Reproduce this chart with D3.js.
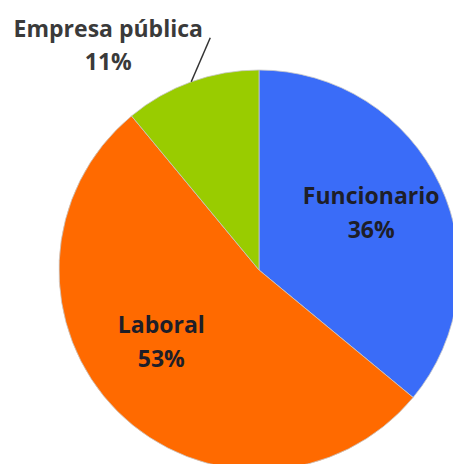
<!DOCTYPE html>
<html>
<head>
<meta charset="utf-8">
<script src="https://cdn.jsdelivr.net/npm/d3@7"></script>
<style>
  body { margin: 0; background: #fff; }
  svg { display: block; }
</style>
</head>
<body>
<svg id="chart"></svg>
<script>
// data
const categories = ["Funcionario", "Laboral", "Empresa pública"];
const shares = [36, 53, 11];
const colors = ["#3a6cf8", "#ff6a00", "#99cc00"];

const width = 453, height = 464;
const cx = 259, cy = 270, radius = 200;

const svg = d3.select("#chart")
  .attr("width", width)
  .attr("height", height);

const g = svg.append("g")
  .attr("transform", `translate(${cx},${cy})`);

const pie = d3.pie().sort(null).value(d => d.value);
const arc = d3.arc().innerRadius(0).outerRadius(radius);
const labelArc = d3.arc().innerRadius(radius * 0.62).outerRadius(radius * 0.62);
const edgeArc = d3.arc().innerRadius(radius).outerRadius(radius);

const data = categories.map((c, i) => ({name: c, value: shares[i], color: colors[i]}));
const arcs = pie(data);

g.selectAll("path.slice")
  .data(arcs)
  .enter()
  .append("path")
    .attr("class", "slice")
    .attr("d", arc)
    .attr("fill", d => d.data.color)
    .attr("stroke", "#c8c8c8")
    .attr("stroke-width", 0.8);

const font = "'Open Sans', Lato, sans-serif";
const fsize = "23px";

// small shifts so labels sit like the original best-fit placement
const nudge = {"Funcionario": [0, -3], "Laboral": [-10, -15]};

// inside labels (the big slices)
const inside = arcs.filter(d => d.data.value > 20);
const lab = g.selectAll("g.lab")
  .data(inside)
  .enter()
  .append("g")
    .attr("class", "lab")
    .attr("transform", d => {
      const [x, y] = labelArc.centroid(d);
      const n = nudge[d.data.name] || [0, 0];
      return `translate(${x + n[0]},${y + n[1]})`;
    });

lab.append("text")
  .attr("y", -10)
  .attr("text-anchor", "middle")
  .style("font-family", font)
  .style("font-weight", "bold")
  .style("font-size", fsize)
  .attr("fill", "#1e1e28")
  .text(d => d.data.name);

lab.append("text")
  .attr("y", 24)
  .attr("text-anchor", "middle")
  .style("font-family", font)
  .style("font-weight", "bold")
  .style("font-size", fsize)
  .attr("fill", "#1e1e28")
  .text(d => d.data.value + "%");

// outside label with leader line (small slice)
const outside = arcs.filter(d => d.data.value <= 20);
outside.forEach(d => {
  const [ex, ey] = edgeArc.centroid(d);
  const lx = ex + 19, ly = ey - 44;
  g.append("line")
    .attr("x1", ex).attr("y1", ey)
    .attr("x2", lx).attr("y2", ly)
    .attr("stroke", "#333")
    .attr("stroke-width", 1.5);

  const tx = lx - 102, ty = ly - 1;
  g.append("text")
    .attr("x", tx).attr("y", ty)
    .attr("text-anchor", "middle")
    .style("font-family", font)
    .style("font-weight", "bold")
    .style("font-size", fsize)
    .attr("fill", "#3a3a3a")
    .text(d.data.name);
  g.append("text")
    .attr("x", tx).attr("y", ty + 33)
    .attr("text-anchor", "middle")
    .style("font-family", font)
    .style("font-weight", "bold")
    .style("font-size", fsize)
    .attr("fill", "#3a3a3a")
    .text(d.data.value + "%");
});
</script>
</body>
</html>
